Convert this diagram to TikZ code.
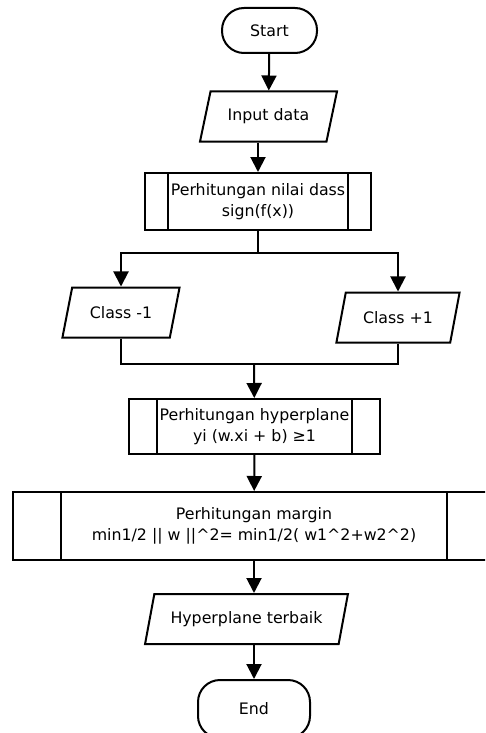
\documentclass[tikz,border=0pt]{standalone}
\usepackage{fontspec}
\setmainfont{DejaVu Sans}
\usepackage{tikz}
\usetikzlibrary{shapes.geometric,arrows.meta,calc}
\tikzstyle{arrow}=[draw, -{Triangle[width=15pt,length=15pt]}]
\tikzstyle{terminal}=[draw, rectangle, rounded corners=22pt, minimum width=95pt, minimum height=45pt]
\tikzstyle{io}=[draw, trapezium, trapezium left angle=70, trapezium right angle=110, trapezium stretches=true, minimum height=50pt]
\tikzset{process/.style={draw, rectangle, align=center, path picture={
  \draw ([xshift=#1]path picture bounding box.north west) -- ([xshift=#1]path picture bounding box.south west);
  \draw ([xshift=-#1]path picture bounding box.north east) -- ([xshift=-#1]path picture bounding box.south east);}}}

\begin{document}
\begin{tikzpicture}[x=1pt, y=1pt, line width=2pt, font=\fontsize{15.8}{21}\selectfont]
\path [use as bounding box, clip] (0,0) rectangle (485,-733);

\node (start) [terminal] at (269.5,-30.5) {Start};
\node (input) [io, minimum width=137pt] at (268.5,-116.5) {Input data};
\node (sign) [process=23pt, minimum width=226pt, minimum height=57pt] at (258,-201.5) {Perhitungan nilai dass\\sign(f(x))};
\node (cmin) [io, minimum width=118pt] at (121,-312.5) {Class -1};
\node (cplus) [io, minimum width=124pt] at (398,-317.5) {Class +1};
\node (hyper) [process=28pt, minimum width=251pt, minimum height=55pt] at (254.5,-426.5) {Perhitungan hyperplane\\yi (w.xi + b) ≥1};
\node (margin) [process=48pt, minimum width=482pt, minimum height=68pt] at (254,-526) {Perhitungan margin\\min1/2 || w ||\textasciicircum{}2= min1/2( w1\textasciicircum{}2+w2\textasciicircum{}2)};
\node (best) [io, minimum width=203pt] at (246.5,-619) {Hyperplane terbaik};
\node (end) [terminal, minimum width=112pt, minimum height=58pt] at (254,-709) {End};

\coordinate (split) at ($(sign.south)+(0,-22)$);
\coordinate (join) at (254,-364);

\draw [arrow] (start) -- (input);
\draw [arrow] (input.south -| sign.north) -- (sign.north);
\draw (sign) -- (split);
\draw [arrow] (split) -| (cmin);
\draw [arrow] (split) -| (cplus);
\draw (cmin.south) |- (join) -| (cplus.south);
\draw [arrow] (join) -- (hyper);
\draw [arrow] (hyper) -- (margin);
\draw [arrow] (margin.south) -- (margin.south |- best.north);
\draw [arrow] (best.south -| end.north) -- (end);

\end{tikzpicture}
\end{document}
